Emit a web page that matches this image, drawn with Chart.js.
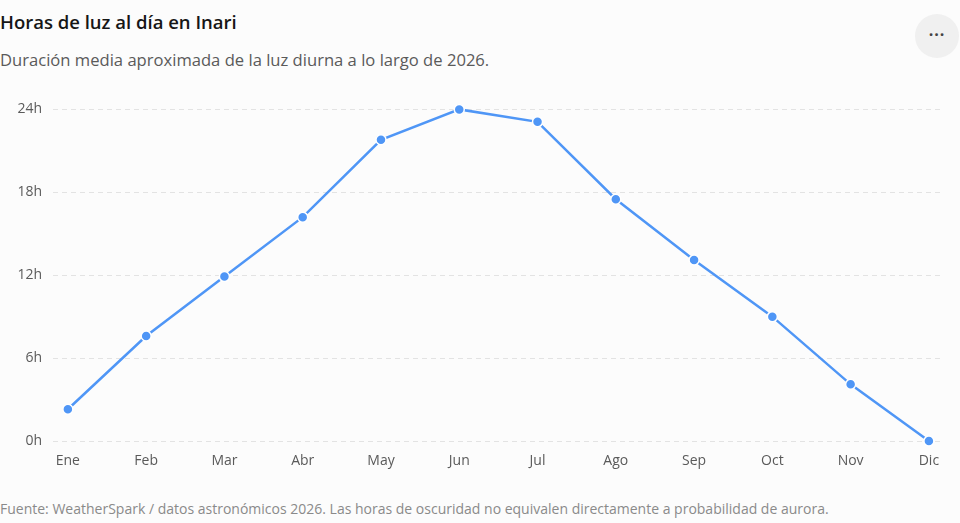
<!DOCTYPE html>
<html lang="es">
<head>
<meta charset="utf-8">
<title>Horas de luz al día en Inari</title>
<script src="https://cdn.jsdelivr.net/npm/chart.js@4.4.1/dist/chart.umd.min.js"></script>
<style>
  html, body { margin: 0; padding: 0; background: #fcfcfc; }
  body { width: 960px; height: 523px; position: relative; overflow: hidden; font-family: "Open Sans", "Noto Sans", sans-serif; }
  .titulo { position: absolute; left: 0; top: 9px; font-size: 18.5px; font-weight: 600; color: #161616; white-space: nowrap; }
  .subtitulo { position: absolute; left: 0; top: 48px; font-size: 16.6px; color: #5a5a5a; white-space: nowrap; }
  .fuente { position: absolute; left: 0; top: 499px; font-size: 14px; color: #8a8a8a; white-space: nowrap; }
  .menu { position: absolute; left: 915px; top: 14px; width: 44px; height: 44px; border-radius: 50%; background: #f0f0f0; color: #444; text-align: center; line-height: 40px; font-size: 16px; font-weight: 700; letter-spacing: 1px; }
  .caja { position: absolute; left: 0; top: 90px; width: 960px; height: 385px; }
</style>
</head>
<body>
<div class="titulo">Horas de luz al día en Inari</div>
<div class="subtitulo">Duración media aproximada de la luz diurna a lo largo de 2026.</div>
<div class="menu">···</div>
<div class="caja"><canvas id="grafico"></canvas></div>
<div class="fuente">Fuente: WeatherSpark / datos astronómicos 2026. Las horas de oscuridad no equivalen directamente a probabilidad de aurora.</div>

<script>
// meses y horas de luz
const meses = ['Ene', 'Feb', 'Mar', 'Abr', 'May', 'Jun', 'Jul', 'Ago', 'Sep', 'Oct', 'Nov', 'Dic'];
const horasLuz = [2.3, 7.6, 11.9, 16.2, 21.8, 24.0, 23.1, 17.5, 13.1, 9.0, 4.1, 0.0];
const ticksHoras = [0, 6, 12, 18, 24];

const azul = '#4f96f6';
const fuente = '"Open Sans", "Noto Sans", sans-serif';

let puntos = meses.map(function (m, i) {
    return {x: i, y: horasLuz[i]};
});

var ctx = document.getElementById('grafico').getContext('2d');
const config = {
    type: 'line',
    data: {
        datasets: [{
            label: 'Horas de luz',
            data: puntos,
            borderColor: azul,
            borderWidth: 2.5,
            backgroundColor: azul,
            pointBackgroundColor: azul,
            pointBorderColor: '#ffffff',
            pointBorderWidth: 1.5,
            pointRadius: 5,
            tension: 0,
            clip: false
        }]
    },
    options: {
        responsive: true,
        maintainAspectRatio: false,
        animation: false,
        layout: {
            padding: {left: 0, right: 17, top: 19, bottom: 0}
        },
        plugins: {
            legend: {display: false},
            tooltip: {enabled: false}
        },
        scales: {
            x: {
                type: 'linear',
                min: -0.19,
                max: 11.18,
                afterBuildTicks: function (scale) {
                    scale.ticks = meses.map(function (m, i) { return {value: i}; });
                },
                afterFit: function (scale) { scale.height = 34; },
                grid: {display: false, drawTicks: false},
                border: {display: false},
                ticks: {
                    padding: 12,
                    color: '#5a5a5a',
                    font: {family: fuente, size: 14},
                    callback: function (value) { return meses[value]; }
                }
            },
            y: {
                min: 0,
                max: 24,
                afterBuildTicks: function (scale) {
                    scale.ticks = ticksHoras.map(function (v) { return {value: v}; });
                },
                afterFit: function (scale) { scale.width = 53; },
                grid: {color: '#e3e3e3', lineWidth: 1, drawTicks: false},
                border: {display: false, dash: [5, 4]},
                ticks: {
                    padding: 11,
                    color: '#5a5a5a',
                    font: {family: fuente, size: 14},
                    callback: function (value) { return value + 'h'; }
                }
            }
        }
    }
};
var graficoLuz = new Chart(ctx, config);
</script>
</body>
</html>
